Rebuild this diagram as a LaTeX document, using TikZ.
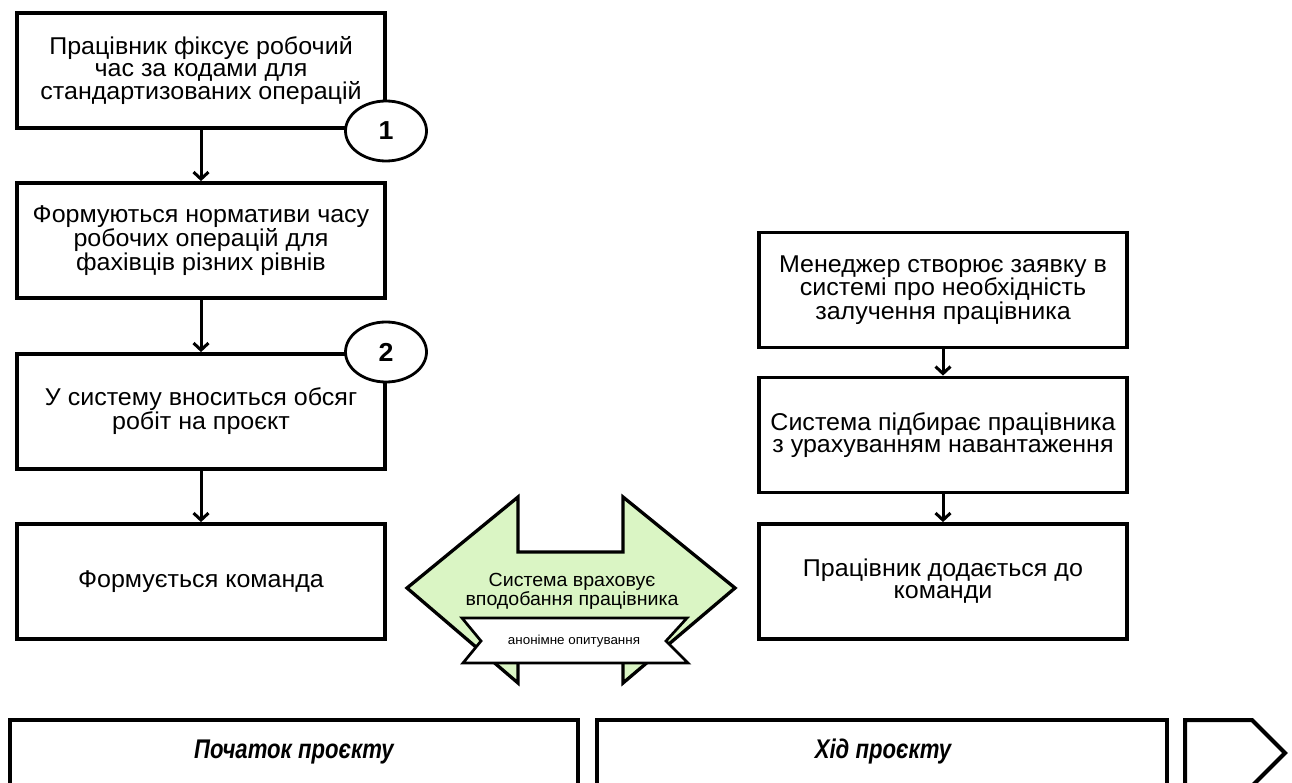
\documentclass[tikz,border=0pt]{standalone}
\usepackage{fontspec}
\setmainfont{Liberation Sans}[FakeStretch=1.03]
\newfontfamily\phasefont{Liberation Sans}[FakeStretch=0.82]
\usetikzlibrary{arrows.meta,shapes.geometric}
\definecolor{lgreen}{HTML}{DAF5C4}
\begin{document}
\begin{tikzpicture}[x=1pt,y=-1pt,
  box/.style={draw,line width=3.8pt,minimum width=368pt,minimum height=115pt,align=center,inner sep=0pt,
    font=\fontsize{24.3}{22}\selectfont},
  num/.style={draw,ellipse,line width=2.8pt,fill=white,minimum width=81pt,minimum height=60pt,inner sep=0pt,
    font=\fontsize{26}{26}\selectfont\bfseries},
  flow/.style={line width=3pt,-{Straight Barb[length=7pt,width=15pt,line width=3pt]}},
  phase/.style={font=\phasefont\fontsize{27}{27}\selectfont\bfseries\itshape},
  edgeline/.style={line width=4pt,line join=miter}]
\useasboundingbox (0,0) rectangle (1292,783);
\fill[white] (0,0) rectangle (1292,783);

% left column
\node[box] (b1) at (201,70.5) {Працівник фіксує робочий\\час за кодами для\\стандартизованих операцій};
\node[box] (b2) at (201,240.5) {Формуються нормативи часу\\робочих операцій для\\фахівців різних рівнів};
\node[box] (b3) at (201,411.5) {У систему вноситься обсяг\\робіт на проєкт};
\node[box] (b4) at (201,581.5) {Формується команда};
\node[num] (n1) at (386,131) {1};
\node[num] (n2) at (386,352) {2};
\draw[flow] (b1) -- (b2);
\draw[flow] (b2) -- (b3);
\draw[flow] (b3) -- (b4);

% right column
\node[box] (r1) at (943,290) {Менеджер створює заявку в\\системі про необхідність\\залучення працівника};
\node[box] (r2) at (943,435) {Система підбирає працівника\\з урахуванням навантаження};
\node[box] (r3) at (943,581.5) {Працівник додається до\\команди};
\draw[flow] (r1) -- (r2);
\draw[flow] (r2) -- (r3);

% green double arrow
\draw[line width=3.3pt,fill=lgreen,line join=miter] (407,588) -- (518,497) -- (518,552) -- (623,552) -- (623,497)
  -- (735,588) -- (623,683) -- (623,624) -- (518,624) -- (518,683) -- cycle;
\node[align=center,inner sep=0pt,font=\fontsize{19}{19}\selectfont] (g) at (572,591) {Система враховує\\вподобання працівника};
\draw[line width=2.7pt,fill=white,line join=miter] (462,618) -- (687,618) -- (666,641) -- (688,663) -- (463,663) -- (481,641) -- cycle;
\node[inner sep=0pt,font=\fontsize{13}{13}\selectfont] (an) at (574,641) {анонімне опитування};

% bottom phases
\begin{scope}
\clip (0,0) rectangle (1292,783);
\draw[edgeline] (10,800) -- (10,720) -- (578,720) -- (578,800);
\draw[edgeline] (597,800) -- (597,720) -- (1167,720) -- (1167,800);
\draw[edgeline] (1185,800) -- (1185,720) -- (1252,720) -- (1285,753) -- (1252,786) -- (1185,786);
\end{scope}
\node[phase] (p1) at (294,752) {Початок проєкту};
\node[phase] (p2) at (883,752) {Хід проєкту};
\end{tikzpicture}
\end{document}
